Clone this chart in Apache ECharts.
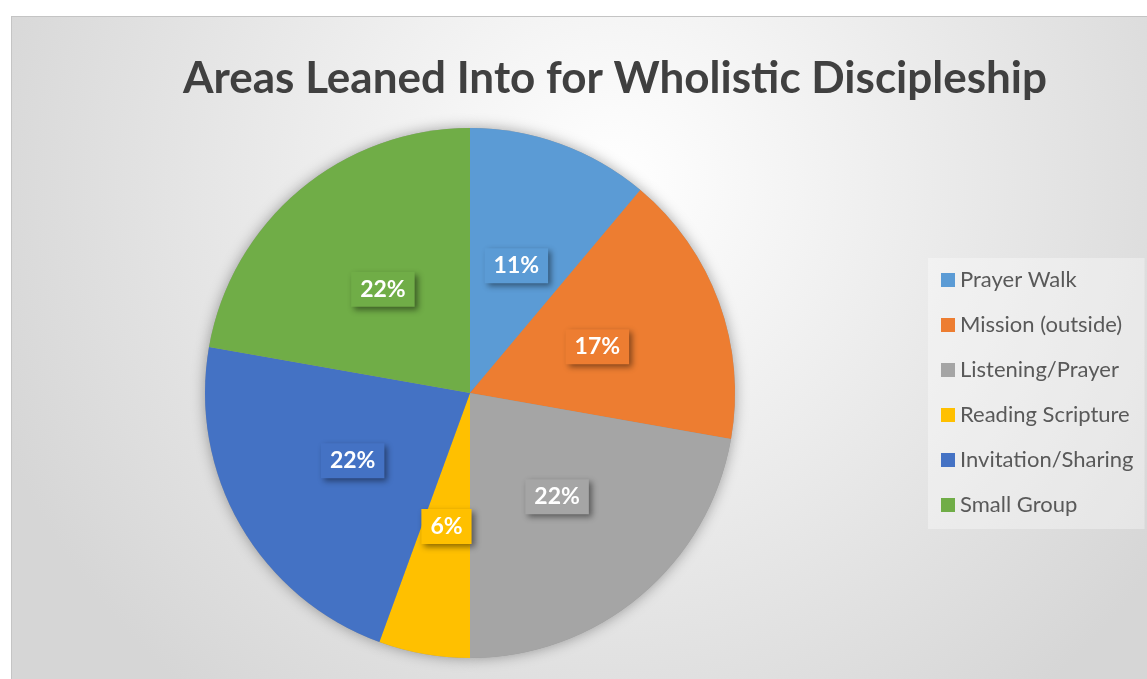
<!DOCTYPE html>
<html>
<head>
<meta charset="utf-8">
<title>Areas Leaned Into for Wholistic Discipleship</title>
<script src="https://cdn.jsdelivr.net/npm/echarts@6/dist/echarts.min.js"></script>
<style>
  html, body { margin: 0; padding: 0; background: #ffffff; width: 1147px; height: 679px; overflow: hidden; }
  #frame { position: absolute; left: 11px; top: 16px; width: 1136px; height: 663px;
           border-left: 1px solid #c4c4c4; border-top: 1px solid #c4c4c4; }
  #chart { width: 1136px; height: 663px; }
</style>
</head>
<body>
<div id="frame"><div id="chart"></div></div>
<script>
// Responses per discipleship area
const categories = ['Prayer Walk', 'Mission (outside)', 'Listening/Prayer', 'Reading Scripture', 'Invitation/Sharing', 'Small Group'];
const counts = [2, 3, 4, 1, 4, 4];
const colors = ['#5B9BD5', '#ED7D31', '#A5A5A5', '#FFC000', '#4472C4', '#70AD47'];
const titleText = 'Areas Leaned Into for Wholistic Discipleship';

const FONT = 'Lato, "Open Sans", sans-serif';
const CENTER = [458, 376];
const RADIUS = 265;

const chart = echarts.init(document.getElementById('chart'), null, { renderer: 'canvas' });

const option = {
  animation: false,
  backgroundColor: {
    type: 'radial', x: 0.53, y: 0.25, r: 1.0,
    colorStops: [
      { offset: 0, color: '#ffffff' },
      { offset: 1, color: '#d6d6d6' }
    ]
  },
  title: {
    text: titleText,
    left: 166,
    top: 35,
    textStyle: { fontFamily: FONT, fontWeight: 'bold', fontSize: 44, color: '#404040' }
  },
  legend: {
    orient: 'vertical',
    left: 916,
    top: 241,
    data: categories,
    icon: 'rect',
    itemWidth: 14,
    itemHeight: 14,
    itemGap: 21,
    padding: [10, 11, 12, 13],
    backgroundColor: 'rgba(255,255,255,0.35)',
    selectedMode: false,
    textStyle: { fontFamily: FONT, fontSize: 22, color: '#595959', lineHeight: 24 }
  },
  series: [
    {
      // soft drop shadow under the whole pie
      type: 'pie',
      silent: true,
      z: 1,
      center: CENTER,
      radius: RADIUS,
      startAngle: 90,
      label: { show: false },
      labelLine: { show: false },
      itemStyle: { color: '#999999', shadowBlur: 14, shadowColor: 'rgba(0,0,0,0.35)' },
      data: counts.map(v => ({ value: v }))
    },
    {
      type: 'pie',
      z: 2,
      center: CENTER,
      radius: RADIUS,
      startAngle: 90,
      percentPrecision: 0,
      itemStyle: { borderWidth: 0 },
      labelLine: { show: false },
      label: {
        show: true,
        position: 'inside',
        formatter: p => Math.round(p.percent) + '%',
        fontFamily: FONT,
        fontWeight: 'bold',
        fontSize: 23,
        lineHeight: 25,
        color: '#ffffff',
        padding: [5, 9],
        shadowBlur: 6,
        shadowOffsetX: 3,
        shadowOffsetY: 3,
        shadowColor: 'rgba(0,0,0,0.45)'
      },
      emphasis: { disabled: true },
      data: categories.map((name, i) => ({
        name,
        value: counts[i],
        itemStyle: { color: colors[i] },
        label: { backgroundColor: colors[i] }
      }))
    }
  ]
};

chart.setOption(option);
</script>
</body>
</html>
